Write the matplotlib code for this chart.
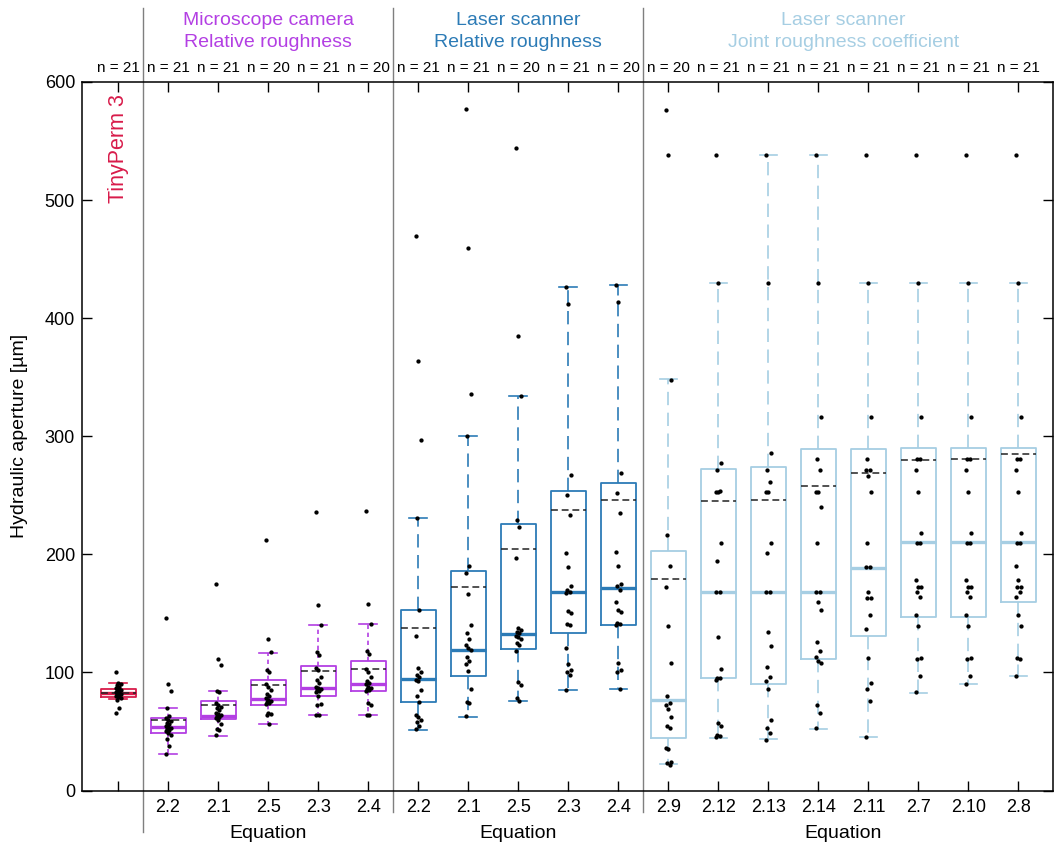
import matplotlib
matplotlib.use('Agg')
import matplotlib.pyplot as plt
import matplotlib.transforms as mtransforms
import numpy as np

plt.rcParams['font.family'] = ['Liberation Sans', 'DejaVu Sans']

# ---------------- data ----------------
tick_labels = ['', '2.2', '2.1', '2.5', '2.3', '2.4',
               '2.2', '2.1', '2.5', '2.3', '2.4',
               '2.9', '2.12', '2.13', '2.14', '2.11', '2.7', '2.10', '2.8']
group_of_box = [0, 1, 1, 1, 1, 1, 2, 2, 2, 2, 2, 3, 3, 3, 3, 3, 3, 3, 3]
group_titles = ['', 'Microscope camera\nRelative roughness',
                'Laser scanner\nRelative roughness',
                'Laser scanner\nJoint roughness coefficient']

# raw values per box
values = [
    [100, 91, 90, 89, 88, 87, 86, 85, 84, 83.5, 83, 82.5, 82, 81.5, 81, 80, 79, 78, 77, 70, 66],
    [146, 90, 84, 70, 63, 61, 60, 59, 57, 56, 55, 54, 53, 52, 51, 50, 49, 47, 44, 38, 31],
    [175, 111, 106, 84, 83, 74, 72, 71, 70, 68, 66, 65, 64, 63, 62, 61, 60, 56, 52, 51, 47],
    [212, 128, 117, 102, 100, 90, 88, 85, 82, 80, 78, 77, 76, 75, 74, 73, 66, 65, 64, 56],
    [236, 157, 140, 117, 115, 104, 102, 96, 94, 91, 88, 87, 86, 85, 84, 83, 80, 73, 72, 64, 64],
    [237, 158, 141, 118, 116, 103, 100, 96, 93, 91, 90, 88, 87, 86, 85, 84, 74, 72, 64, 64],
    [470, 364, 297, 231, 153, 131, 104, 100, 98, 96, 94, 93, 85, 80, 75, 64, 62, 60, 58, 55, 52],
    [577, 459, 336, 300, 190, 184, 166, 140, 133, 128, 123, 121, 119, 113, 110, 107, 101, 86, 75, 74, 63],
    [544, 385, 334, 229, 223, 197, 138, 136, 134, 133, 131, 130, 128, 125, 123, 118, 92, 89, 78, 76],
    [426, 412, 267, 250, 233, 201, 189, 173, 170, 168, 167, 152, 150, 141, 140, 121, 107, 102, 100, 98, 85],
    [428, 414, 269, 252, 235, 202, 190, 175, 173, 170, 160, 153, 151, 142, 141, 140, 108, 102, 100, 86],
    [576, 538, 348, 216, 190, 172, 139, 108, 80, 74, 72, 69, 62, 55, 53, 36, 35, 24, 23, 22],
    [538, 430, 277, 271, 254, 253, 253, 210, 194, 168, 168, 130, 103, 95, 95, 94, 57, 55, 47, 46, 45],
    [538, 430, 286, 271, 261, 253, 253, 210, 201, 168, 168, 134, 122, 105, 96, 93, 86, 60, 53, 49, 43],
    [538, 430, 316, 281, 271, 253, 253, 240, 210, 168, 168, 160, 153, 126, 118, 113, 110, 108, 72, 66, 53],
    [538, 430, 316, 281, 271, 271, 266, 253, 210, 189, 189, 168, 163, 163, 149, 137, 112, 91, 86, 76, 45],
    [538, 430, 316, 281, 281, 271, 253, 218, 210, 210, 178, 172, 172, 168, 164, 149, 139, 112, 111, 97, 83],
    [538, 430, 316, 281, 281, 271, 253, 218, 210, 210, 178, 172, 172, 168, 164, 149, 139, 112, 111, 97, 90],
    [538, 430, 316, 281, 281, 271, 253, 218, 210, 210, 190, 178, 172, 172, 168, 164, 149, 139, 112, 111, 97],
]

# box statistics
q1 = [79.3, 48.6, 60.2, 72.6, 79.9, 83.9, 75.3, 96.7, 120.1, 133.3, 140.3,
      44.6, 94.9, 90.6, 111.2, 130.7, 146.6, 146.6, 159.8]
med = [82.8, 53.9, 63.5, 77.4, 87.0, 90.1, 94.4, 118.9, 132.5, 168.3, 171.5,
       76.5, 167.8, 167.8, 167.8, 188.7, 210.4, 210.4, 210.4]
q3 = [85.8, 61.0, 75.7, 94.0, 105.6, 109.6, 152.8, 185.8, 225.9, 253.9, 260.2,
      202.8, 272.0, 274.2, 289.2, 289.2, 290.4, 289.8, 290.1]
whislo = [77.2, 31.0, 46.3, 55.9, 63.8, 63.8, 51.6, 62.5, 75.7, 85.1, 85.9,
          22.3, 44.6, 43.2, 52.5, 44.9, 82.7, 89.8, 96.8]
whishi = [91.2, 70.0, 84.2, 116.6, 139.8, 141.2, 230.6, 299.8, 333.7, 426.3, 428.2,
          348.5, 429.9, 538.4, 538.4, 429.9, 429.9, 429.9, 429.9]
means = [82.6, 59.6, 72.3, 89.0, 101.1, 102.8, 137.6, 172.2, 204.5, 237.6, 246.2,
         179.0, 244.9, 246.0, 257.9, 269.2, 280.2, 280.7, 285.3]

# ---------------- style ----------------
group_colors = ['#D81B4A', '#B33FE3', '#2C7BB6', '#A6CEE3']
whisker_styles = [(0, (2.5, 2)), (0, (2.6, 2.2)), (0, (8, 4.5)), (0, (8, 4.5))]

W, H = 1054, 848
fig = plt.figure(figsize=(W / 100, H / 100), dpi=100)
ax_l, ax_r, ax_t, ax_b = 82, 1053, 82, 790.5
ax = fig.add_axes([ax_l / W, 1 - ax_b / H, (ax_r - ax_l) / W, (ax_b - ax_t) / H])

positions = np.arange(1, len(values) + 1)

for i, pos in enumerate(positions):
    g = group_of_box[i]
    c = group_colors[g]
    st = dict(med=med[i], q1=q1[i], q3=q3[i], whislo=whislo[i], whishi=whishi[i],
              mean=means[i], fliers=[])
    ax.bxp([st], positions=[pos], widths=0.7, capwidths=0.35,
           showmeans=True, meanline=True, showfliers=False,
           boxprops=dict(color=c, linewidth=1.3),
           medianprops=dict(color=c, linewidth=2.4),
           whiskerprops=dict(color=c, linewidth=1.2, linestyle=whisker_styles[g]),
           capprops=dict(color=c, linewidth=1.2),
           meanprops=dict(color='#222222', linewidth=1.1, linestyle=(0, (4.5, 2.5))),
           manage_ticks=False)
    v = np.asarray(values[i], dtype=float)
    n = len(v)
    jit = (((np.arange(n) * 7) % 5) - 2) * 0.025
    ax.scatter(pos + jit, v, s=9.5, color='black', zorder=5, linewidths=0)

ax.set_xlim(0.28, 19.69)
ax.set_ylim(0, 600)
ax.set_yticks(np.arange(0, 601, 100))
ax.set_xticks(positions)
ax.set_xticklabels(tick_labels)
ax.tick_params(direction='in', length=7, width=1.0, top=True, right=True,
               labelsize=13, pad=5)
ax.tick_params(axis='x', pad=6)
for sp in ax.spines.values():
    sp.set_linewidth(1.1)

trans = mtransforms.blended_transform_factory(ax.transData, ax.transAxes)
frac = lambda ypx: (ax_b - ypx) / (ax_b - ax_t)

# separators
sep_x = [1.5, 6.5, 11.5]
sep_bottom = [832, 812, 812]
for sx, sb in zip(sep_x, sep_bottom):
    ax.plot([sx, sx], [frac(8), frac(sb)], transform=trans, color='#7f7f7f',
            lw=1.0, clip_on=False, zorder=1)

# n labels
for i, pos in enumerate(positions):
    ax.text(pos, frac(68), f'n = {len(values[i])}', transform=trans,
            ha='center', va='center', fontsize=11)

# group titles and Equation labels
group_centers = [1, 4, 9, 15.5]
for g in range(1, 4):
    ax.text(group_centers[g], frac(31.5), group_titles[g], transform=trans,
            ha='center', va='center', fontsize=14, color=group_colors[g],
            linespacing=1.42)
    ax.text(group_centers[g], frac(833), 'Equation', transform=trans,
            ha='center', va='center', fontsize=14)

ax.text(1, 590, 'TinyPerm 3', rotation=90, ha='center', va='top',
        fontsize=15.5, color=group_colors[0])

fig.text(20 / W, 1 - 436 / H, 'Hydraulic aperture [µm]', rotation=90,
         ha='center', va='center', fontsize=14)

fig.savefig('out.png', dpi=100)
